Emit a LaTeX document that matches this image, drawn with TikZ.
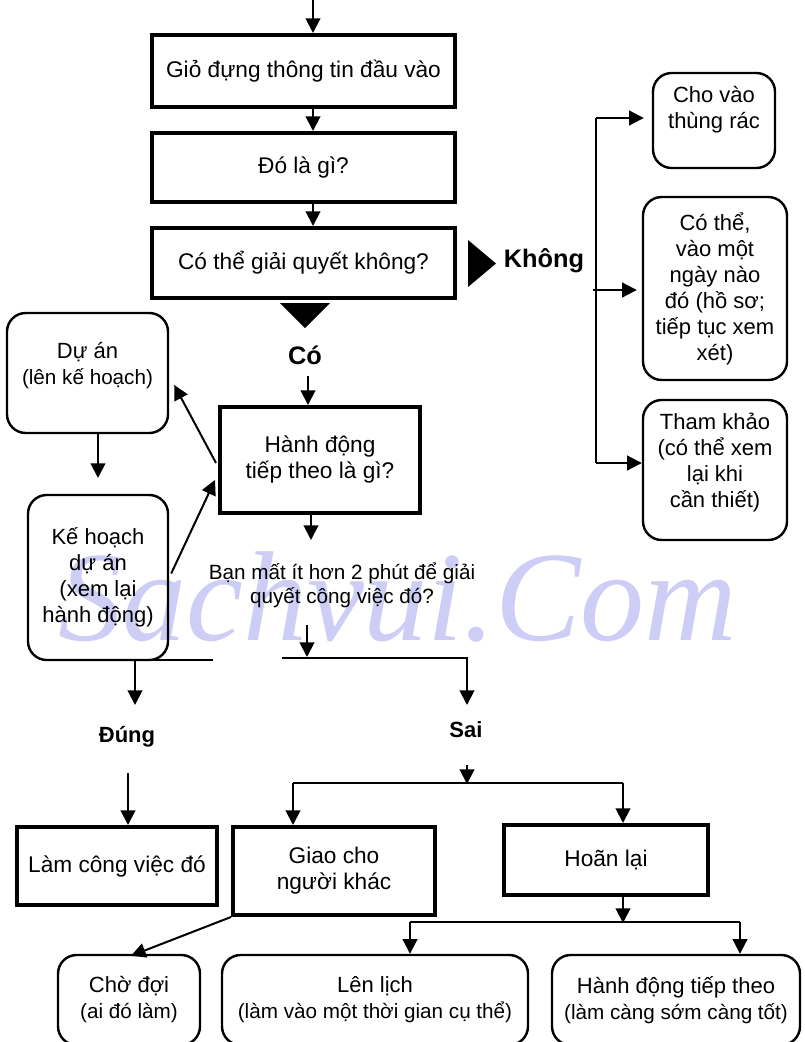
\documentclass[tikz,border=0pt]{standalone}
\usepackage{fontspec}
\setmainfont{Liberation Sans}
\newfontfamily\wmfont{Liberation Serif}
\usetikzlibrary{arrows.meta,calc}
\definecolor{wm}{RGB}{205,205,245}
\begin{document}
\begin{tikzpicture}[x=0.75pt,y=-0.75pt,
  every node/.style={inner sep=0pt, align=center},
  tbox/.style={draw, line width=3pt, font=\fontsize{17}{19.5}\selectfont},
  rbox/.style={draw, line width=1.8pt, rounded corners=14pt, font=\fontsize{16.5}{19.5}\selectfont},
  txt/.style={font=\fontsize{16.5}{19.5}\selectfont},
  arr/.style={line width=1.5pt, -{Triangle[length=11pt,width=11pt]}},
  plain/.style={line width=1.5pt},
  lbl/.style={font=\bfseries\fontsize{19}{22}\selectfont},
  lbls/.style={font=\bfseries\fontsize{16.5}{20}\selectfont},
  small/.style={font=\fontsize{15.5}{18}\selectfont}]
\useasboundingbox (0,0) rectangle (805,1042);
\clip (0,0) rectangle (805,1042);
\fill[white] (0,0) rectangle (805,1042);

% watermark
\node[text=wm, font=\wmfont\itshape\fontsize{96}{100}\selectfont, anchor=base west] (wmk) at (58,640) {Sachvui.Com};

% main column
\node[tbox, minimum width=227.25pt, minimum height=54pt] (b1) at (303.5,71) {Giỏ đựng thông tin đầu vào};
\node[tbox, minimum width=227.25pt, minimum height=51.75pt] (b2) at (303.5,167.5) {Đó là gì?};
\node[tbox, minimum width=227.25pt, minimum height=52.5pt] (b3) at (303.5,263) {Có thể giải quyết không?};

\coordinate (start) at (313,0);
\draw[arr] (start) -- (start |- b1.north);
\draw[arr] (b1.south -| start) -- (b2.north -| start);
\draw[arr] (b2.south -| start) -- (b3.north -| start);

% Không branch
\fill (468,240) -- (496,263.5) -- (468,287) -- cycle;
\node[lbl] (khong) at (544,261) {Không};

\node[rbox, minimum width=91.5pt, minimum height=71.25pt] (cho) at (714,120.5) {};
\node[txt] (chot) at (714,110) {Cho vào\\thùng rác};
\node[rbox, minimum width=108pt, minimum height=137.25pt] (cothe) at (715,288.5) {Có thể,\\vào một\\ngày nào\\đó (hồ sơ;\\tiếp tục xem\\xét)};
\node[rbox, minimum width=108pt, minimum height=105pt] (tham) at (715,470) {};
\node[txt] (thamt) at (715,462.5) {Tham khảo\\(có thể xem\\lại khi\\cần thiết)};

\coordinate (v1) at (596,118);
\coordinate (v2) at (593,290);
\coordinate (v3) at (596,463);
\draw[plain] (v1) -- (v3);
\draw[arr] (v1) -- ($(v1 -| cho.west)+(-8,0)$);
\draw[arr] (v2) -- ($(v2 -| cothe.west)+(-5,0)$);
\draw[arr] (v3) -- (v3 -| tham.west);

% Có branch
\fill (280,303) -- (330,303) -- (305,328) -- cycle;
\node[lbl] (co) at (305,355) {Có};

\node[tbox, minimum width=150pt, minimum height=79.5pt] (hanh) at (320,460) {Hành động\\tiếp theo là gì?};
\coordinate (c1) at (308,376);
\draw[arr] (c1) -- (c1 |- hanh.north);

\node[small] (q) at (342,585) {Bạn mất ít hơn 2 phút để giải\\quyết công việc đó?};
\coordinate (q1) at (311,540);
\draw[arr] (hanh.south -| q1) -- (q1);
\coordinate (q2) at (307,657);
\draw[arr] (307,625) coordinate (q0) -- (q2);

% left projects
\node[rbox, minimum width=120.75pt, minimum height=90pt] (duan) at (87.5,373) {};
\node[txt] (duant) at (87.5,366) {Dự án\\{\fontsize{15.5}{19}\selectfont(lên kế hoạch)}};
\node[rbox, minimum width=105pt, minimum height=123.75pt] (ke) at (98,577.5) {Kế hoạch\\dự án\\(xem lại\\hành động)};
\coordinate (dk) at (98,478);
\draw[arr] (dk |- duan.south) -- (dk);
\draw[arr] ($(hanh.west)+(-2,3)$) -- ($(duan.east)+(5,12)$);
\draw[arr] ($(ke.east)+(2,-4)$) -- ($(hanh.west)+(-3,20)$);

% forks
\coordinate (f1) at (282,658);
\coordinate (f2) at (467,705);
\draw[arr] (f1) -| (f2);
\coordinate (g1) at (213,660);
\coordinate (g2) at (135,705);
\draw[arr] (g1) -| (g2);

\node[lbls] (dung) at (127,737) {Đúng};
\node[lbls] (sai) at (466,730) {Sai};

\node[tbox, minimum width=150pt, minimum height=58.5pt] (lam) at (117,866) {Làm công việc đó};
\coordinate (d1) at (128,773);
\draw[arr] (d1) -- (d1 |- lam.north);

\node[tbox, minimum width=151.5pt, minimum height=66pt] (giao) at (334,871) {Giao cho\\người khác};
\node[tbox, minimum width=153pt, minimum height=52.5pt] (hoan) at (606,860) {Hoãn lại};

\coordinate (s1) at (467,765);
\coordinate (h1) at (467,784);
\draw[arr] (s1) -- (h1);
\coordinate (hl) at (293,783);
\coordinate (hr) at (623,783);
\draw[plain] (hl) -- (hr);
\draw[arr] (hl) -- (hl |- giao.north);
\draw[arr] (hr) -- (hr |- hoan.north);

% bottom row
\node[rbox, minimum width=106.5pt, minimum height=67.5pt] (cho2) at (129,1000) {Chờ đợi\\{\fontsize{15.5}{19}\selectfont(ai đó làm)}};
\node[rbox, minimum width=229.5pt, minimum height=67.5pt] (lich) at (375,1000) {Lên lịch\\{\fontsize{15.5}{19}\selectfont(làm vào một thời gian cụ thể)}};
\node[rbox, minimum width=186pt, minimum height=67.5pt] (hanhb) at (676,1000) {Hành động tiếp theo\\{\fontsize{15.5}{19}\selectfont(làm càng sớm càng tốt)}};

\coordinate (k1) at (623,923);
\draw[arr] (hoan.south -| k1) -- (k1);
\coordinate (kl) at (410,922);
\coordinate (kr) at (740,922);
\draw[plain] (kl) -- (kr);
\draw[arr] (kl) -- (kl |- lich.north);
\draw[arr] (kr) -- (kr |- hanhb.north);

\draw[arr] (giao.south west) -- ($(cho2.north)+(2,2)$);
\end{tikzpicture}
\end{document}
